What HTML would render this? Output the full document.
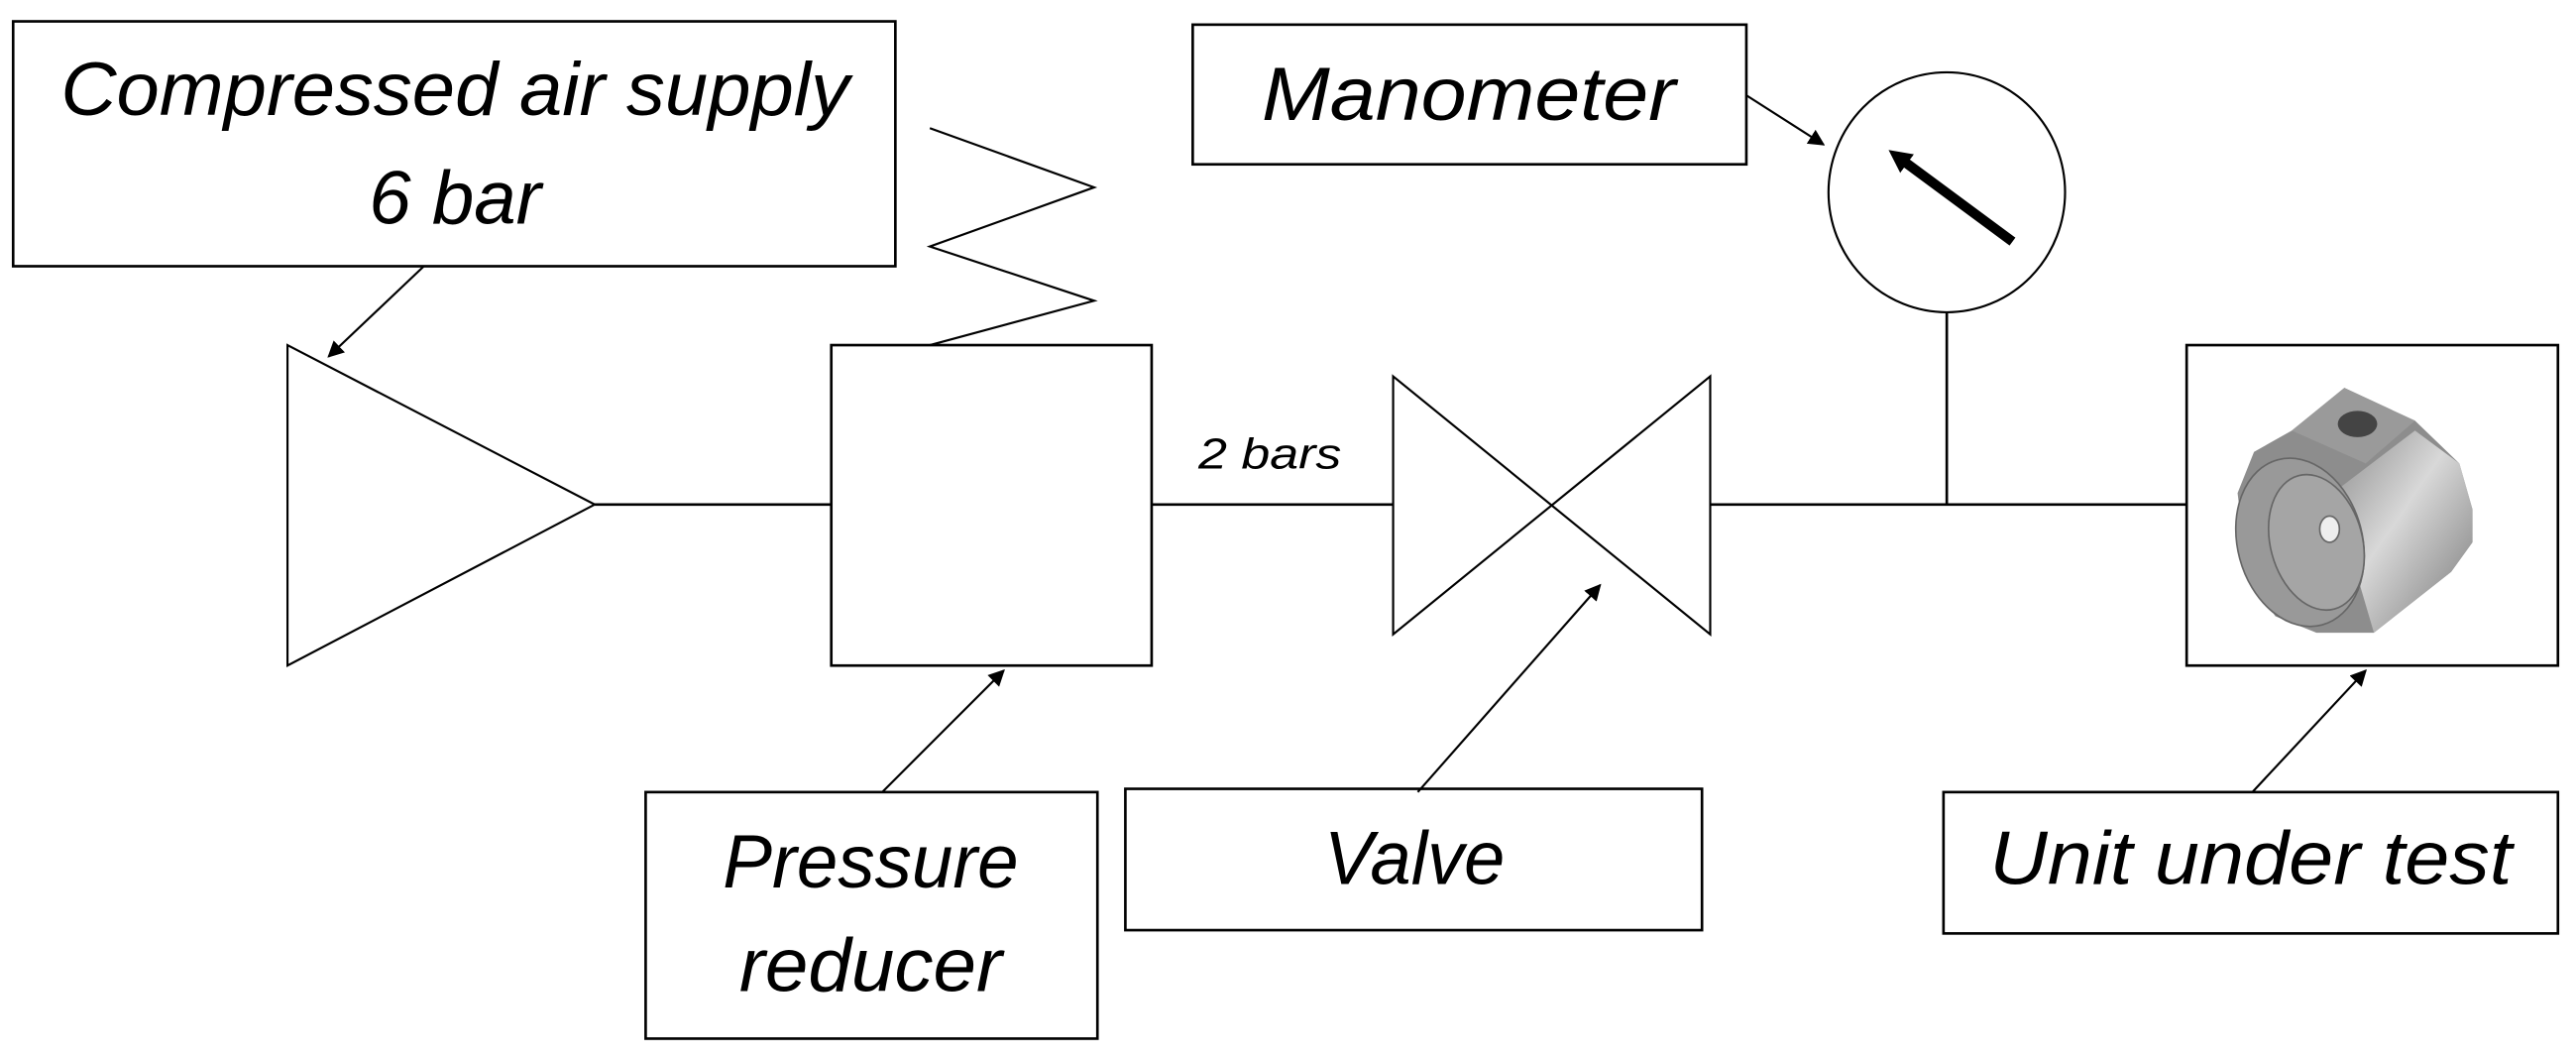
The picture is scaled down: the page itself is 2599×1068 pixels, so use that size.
<!DOCTYPE html>
<html><head><meta charset="utf-8"><style>
html,body{margin:0;padding:0;background:#fff;}
svg{display:block;}
text{font-family:"Liberation Sans",sans-serif;font-style:italic;fill:#000;}
</style></head><body>
<svg width="2599" height="1068" viewBox="0 0 1568 644.4" preserveAspectRatio="none" xmlns="http://www.w3.org/2000/svg">
<defs>
<marker id="ah" markerWidth="10" markerHeight="10" refX="9" refY="5" orient="auto" markerUnits="userSpaceOnUse" viewBox="0 0 10 10">
<path d="M0,0 L10,5 L0,10 z" fill="#000"/>
</marker>
<marker id="ah2" markerWidth="14" markerHeight="14" refX="6" refY="7" orient="auto" markerUnits="userSpaceOnUse" viewBox="0 0 14 14">
<path d="M0,0 L14,7 L0,14 z" fill="#000"/>
</marker>
<linearGradient id="g1" x1="0" y1="0" x2="1" y2="1">
<stop offset="0" stop-color="#8a8a8a"/><stop offset="0.45" stop-color="#d8d8d8"/><stop offset="1" stop-color="#777"/>
</linearGradient>
</defs>
<g fill="none" stroke="#000" stroke-width="1.6">
<rect x="8" y="13" width="537" height="149" fill="#fff"/>
<polyline points="566,78 666,114 566,150 666,183 566,210" stroke-width="1.3"/>
<polygon points="175,210 362,307 175,405" stroke-width="1.3"/>
<line x1="362" y1="307" x2="506" y2="307"/>
<rect x="506" y="210" width="195" height="195"/>
<line x1="701" y1="307" x2="848" y2="307"/>
<polygon points="848,229 1041,386 1041,229 848,386" stroke-width="1.3"/>
<line x1="1041" y1="307" x2="1331" y2="307"/>
<line x1="1185" y1="190" x2="1185" y2="307"/>
<ellipse cx="1185" cy="117" rx="72" ry="73" stroke-width="1.3"/>
<rect x="726" y="15" width="337" height="85"/>
<rect x="1331" y="210" width="226" height="195"/>
<rect x="1183" y="482" width="374" height="86"/>
<rect x="685" y="480" width="351" height="86"/>
<rect x="393" y="482" width="275" height="150"/>
</g>
<g stroke="#000" stroke-width="1.3">
<line x1="258" y1="162" x2="200" y2="217" marker-end="url(#ah)"/>
<line x1="1063" y1="58" x2="1110" y2="88" marker-end="url(#ah)"/>
<line x1="537" y1="482" x2="611" y2="408" marker-end="url(#ah)"/>
<line x1="863" y1="482" x2="974" y2="356" marker-end="url(#ah)"/>
<line x1="1371" y1="482" x2="1440" y2="408" marker-end="url(#ah)"/>
<line x1="1225" y1="147" x2="1156" y2="96" stroke-width="6" marker-end="url(#ah2)"/>
</g>
<!-- unit under test object -->
<g>
<path d="M1395,262 L1427,236 L1470,256 L1497,282 L1505,310 L1505,330 L1492,348 L1445,385 L1410,385 L1385,375 L1368,350 L1362,300 L1372,275 z" fill="#8d8d8d"/>
<path d="M1420,300 L1470,262 L1497,282 L1505,310 L1505,330 L1492,348 L1445,385 z" fill="url(#g1)"/>
<polygon points="1395,262 1427,236 1470,256 1440,282" fill="#9a9a9a"/>
<ellipse cx="1435" cy="258" rx="12" ry="8" fill="#444"/>
<ellipse cx="1400" cy="330" rx="38" ry="52" transform="rotate(-15 1400 330)" fill="#999" stroke="#666" stroke-width="1"/>
<ellipse cx="1410" cy="330" rx="28" ry="42" transform="rotate(-15 1410 330)" fill="#a5a5a5" stroke="#666" stroke-width="1"/>
<ellipse cx="1418" cy="322" rx="6" ry="8" fill="#eee" stroke="#666" stroke-width="1"/>
</g>
<text x="277" y="70" font-size="46" text-anchor="middle" textLength="480" lengthAdjust="spacingAndGlyphs">Compressed air supply</text>
<text x="277" y="136" font-size="46" text-anchor="middle">6 bar</text>
<text x="894" y="73" font-size="46" text-anchor="middle" textLength="252" lengthAdjust="spacingAndGlyphs">Manometer</text>
<text x="773" y="285" font-size="26" text-anchor="middle" textLength="87" lengthAdjust="spacingAndGlyphs">2 bars</text>
<text x="530" y="540" font-size="46" text-anchor="middle" textLength="180" lengthAdjust="spacingAndGlyphs">Pressure</text>
<text x="530" y="603" font-size="46" text-anchor="middle" textLength="160" lengthAdjust="spacingAndGlyphs">reducer</text>
<text x="861" y="538" font-size="46" text-anchor="middle" textLength="110" lengthAdjust="spacingAndGlyphs">Valve</text>
<text x="1370" y="538" font-size="46" text-anchor="middle" textLength="318" lengthAdjust="spacingAndGlyphs">Unit under test</text>
</svg>
</body></html>
